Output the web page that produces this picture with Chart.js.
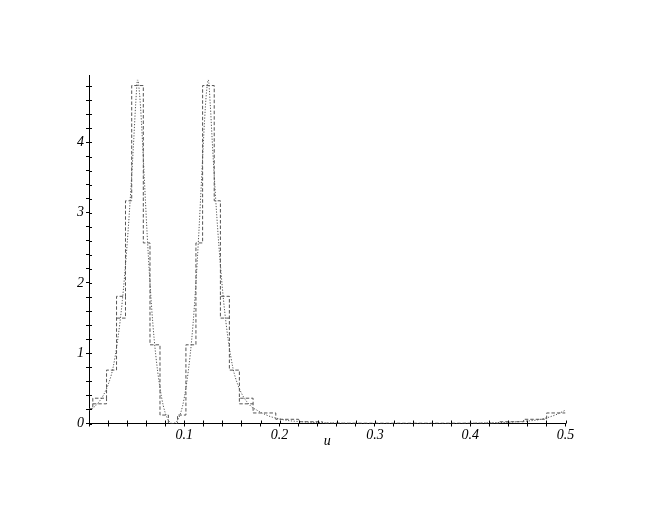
<!DOCTYPE html>
<html>
<head>
<meta charset="utf-8">
<script src="https://cdn.jsdelivr.net/npm/chart.js@4"></script>
<style>
  body { margin: 0; background: #fff; }
  canvas { display: block; }
</style>
</head>
<body>
<canvas id="plot" width="654" height="505"></canvas>
<script>
// smooth density curve (dotted)
const curveX = [0, 0.005, 0.01, 0.015, 0.02, 0.025, 0.03, 0.035, 0.04, 0.044, 0.047, 0.049, 0.051, 0.053, 0.055, 0.058, 0.061, 0.064, 0.067, 0.07, 0.074, 0.078, 0.082, 0.085, 0.088,
  0.0912, 0.0942, 0.0982, 0.1022, 0.1062, 0.1092, 0.1122, 0.1152, 0.1182, 0.1212, 0.1232, 0.1252, 0.1272, 0.1292, 0.1322, 0.1362, 0.1412, 0.1462, 0.1512, 0.1562, 0.1612, 0.1662, 0.1712, 0.1762,
  0.18, 0.19, 0.2, 0.21, 0.22, 0.24, 0.26, 0.3, 0.34, 0.38, 0.4, 0.42, 0.44, 0.46, 0.47, 0.48, 0.49, 0.5];
const curveY = [0.19, 0.23, 0.30, 0.40, 0.55, 0.78, 1.18, 1.75, 2.55, 3.35, 4.05, 4.55, 4.89, 4.70, 4.30, 3.50, 2.70, 2.00, 1.42, 0.98, 0.55, 0.25, 0.08, 0.02, 0.0,
  0.02, 0.08, 0.25, 0.55, 0.98, 1.42, 2.00, 2.70, 3.50, 4.30, 4.70, 4.89, 4.55, 4.05, 3.35, 2.55, 1.75, 1.18, 0.78, 0.55, 0.40, 0.30, 0.23, 0.19,
  0.16, 0.10, 0.065, 0.04, 0.028, 0.012, 0.005, 0.0, 0.0, 0.0, 0.003, 0.008, 0.018, 0.035, 0.05, 0.08, 0.125, 0.19];

// step function (dashed): bin edges, upper and lower level of each bin
const binEdges = [0, 0.004, 0.0184, 0.0289, 0.0383, 0.0448, 0.057, 0.064, 0.0745, 0.0833, 0.0929, 0.1017, 0.1122, 0.1192, 0.1314, 0.1379, 0.1473, 0.1578, 0.1722, 0.196, 0.22, 0.245, 0.43, 0.456, 0.4802, 0.5];
const binHigh = [0.21, 0.36, 0.76, 1.81, 3.17, 4.81, 2.57, 1.12, 0.12, 0.0, 0.12, 1.12, 2.57, 4.81, 3.17, 1.81, 0.76, 0.36, 0.15, 0.06, 0.025, 0.004, 0.025, 0.06, 0.15];
const binLow = [0.21, 0.28, 0.76, 1.50, 3.17, 4.81, 2.57, 1.12, 0.12, 0.0, 0.12, 1.12, 2.57, 4.81, 3.17, 1.50, 0.76, 0.28, 0.15, 0.06, 0.025, 0.004, 0.025, 0.06, 0.15];

const xMin = 0, xMax = 0.5, yMin = 0, yMax = 4.96;
const xLabels = ["0.1", "0.2", "0.3", "0.4", "0.5"];
const yLabels = ["0", "1", "2", "3", "4"];

const curvePts = curveX.map((x, i) => ({ x, y: curveY[i] }));
const stepPts = binHigh.map((h, i) => ({ x: binEdges[i], y: h }));
stepPts.push({ x: binEdges[binEdges.length - 1], y: binHigh[binHigh.length - 1] });

// lower edge of the boxes where a bin has two levels; only the sides the main step does not already draw
const boxPts = [];
binLow.forEach((l, i) => {
  const h = binHigh[i];
  if (l === h) return;
  const a = binEdges[i], b = binEdges[i + 1];
  const prev = i > 0 ? binHigh[i - 1] : h;
  const next = i < binHigh.length - 1 ? binHigh[i + 1] : h;
  if (prev > l) boxPts.push({ x: a, y: h });
  boxPts.push({ x: a, y: l }, { x: b, y: l });
  if (next > l) boxPts.push({ x: b, y: h });
  boxPts.push({ x: b, y: null });
});

const lineCol = "#555";
const font = { family: "'Liberation Serif', 'DejaVu Serif', serif", size: 14, style: "italic" };

// Maple-style ticks cross the axis: draw the inner half
const innerTicks = {
  id: "innerTicks",
  afterDatasetsDraw(chart) {
    const { ctx, scales: { x, y } } = chart;
    ctx.save();
    ctx.strokeStyle = "#000";
    ctx.lineWidth = 1;
    ctx.beginPath();
    x.ticks.forEach(t => {
      const px = Math.round(x.getPixelForValue(t.value)) + 0.5;
      ctx.moveTo(px, y.bottom);
      ctx.lineTo(px, y.bottom - 3);
    });
    y.ticks.forEach(t => {
      const py = Math.round(y.getPixelForValue(t.value)) + 0.5;
      ctx.moveTo(x.left, py);
      ctx.lineTo(x.left + 3, py);
    });
    ctx.stroke();
    ctx.restore();
  }
};

const near = (v, s) => Math.abs(v / s - Math.round(v / s)) < 1e-6;

new Chart(document.getElementById("plot"), {
  type: "line",
  data: {
    datasets: [
      {
        data: curvePts,
        borderColor: lineCol,
        borderWidth: 1,
        borderDash: [1.2, 1.6],
        pointRadius: 0,
        cubicInterpolationMode: "monotone",
        fill: false,
      },
      {
        data: stepPts,
        borderColor: lineCol,
        borderWidth: 1,
        borderDash: [3.5, 2],
        pointRadius: 0,
        stepped: true,
        fill: false,
      },
      {
        data: boxPts,
        borderColor: lineCol,
        borderWidth: 1,
        borderDash: [3.5, 2],
        pointRadius: 0,
        spanGaps: false,
        fill: false,
      }
    ]
  },
  options: {
    responsive: false,
    animation: false,
    layout: { padding: { top: 75, right: 88.5, left: 0, bottom: 0 } },
    plugins: { legend: { display: false }, tooltip: { enabled: false } },
    scales: {
      x: {
        type: "linear",
        min: xMin,
        max: xMax,
        afterFit: s => { s.height = 81.5; },
        border: { color: "#000", width: 1 },
        grid: { drawOnChartArea: false, color: "#000", tickLength: 3 },
        ticks: {
          stepSize: 0.02,
          includeBounds: false,
          autoSkip: false,
          maxRotation: 0,
          padding: 0,
          color: "#000",
          font,
          callback: v => (v > 0 && near(v, 0.1)) ? xLabels[Math.round(v * 10) - 1] : ""
        },
        title: { display: true, text: "u", color: "#000", font, padding: { top: 0, bottom: 55 } }
      },
      y: {
        type: "linear",
        min: yMin,
        max: yMax,
        afterFit: s => { s.width = 89; },
        border: { color: "#000", width: 1 },
        grid: { drawOnChartArea: false, color: "#000", tickLength: 3 },
        ticks: {
          stepSize: 0.2,
          includeBounds: false,
          autoSkip: false,
          padding: 2,
          color: "#000",
          font,
          callback: v => near(v, 1) ? yLabels[Math.round(v)] : ""
        }
      }
    }
  },
  plugins: [innerTicks]
});
</script>
</body>
</html>
